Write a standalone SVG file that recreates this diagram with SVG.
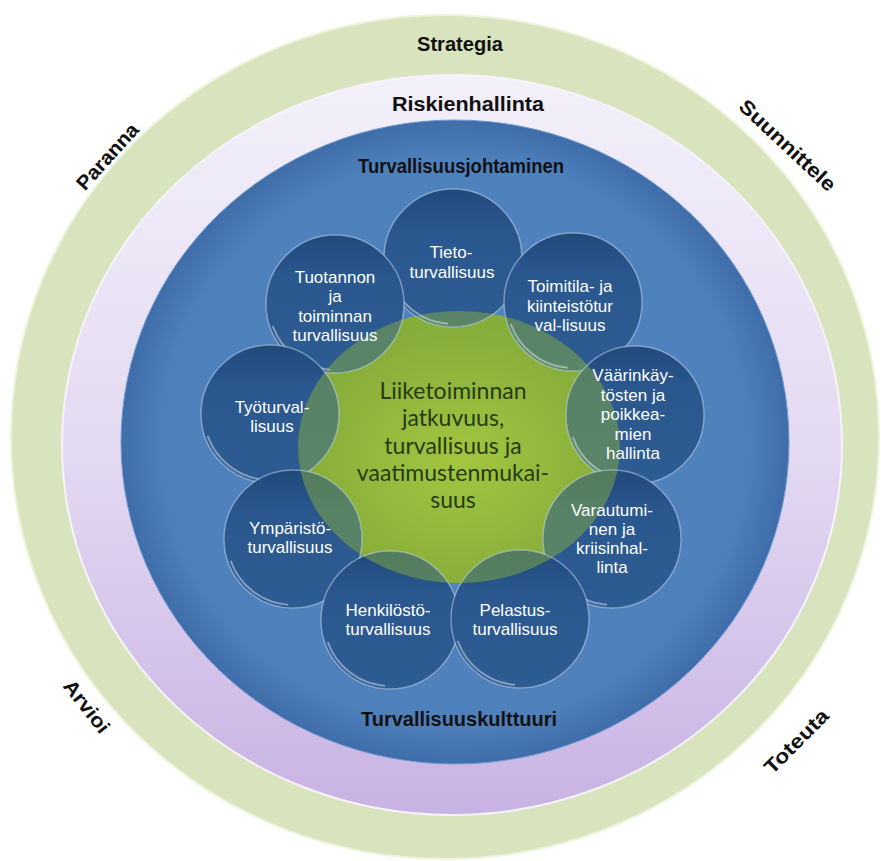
<svg xmlns="http://www.w3.org/2000/svg" xmlns:xlink="http://www.w3.org/1999/xlink" width="881" height="861" viewBox="0 0 881 861">
<style>
.hdr{font-family:"Liberation Sans",Arial,sans-serif;font-weight:bold;font-size:20px;fill:#111;text-anchor:middle}
.lbl{font-family:"Liberation Sans",Arial,sans-serif;font-size:17px;fill:#fff;text-anchor:middle}
.ctr{font-family:Lato,"Liberation Sans",sans-serif;font-size:23px;fill:#253a10;text-anchor:middle}
.bub{fill:url(#bubG)}
.lens{fill:#86ad3e;opacity:.5}
.rim{fill:none;stroke:#c4d6ec;stroke-opacity:.5;stroke-width:1.5}
.hl{fill:none;stroke:#fff;stroke-opacity:.4;stroke-width:2;stroke-linecap:round}
</style>
<defs>
<linearGradient id="purG" x1="0" y1="0" x2="0" y2="1">
<stop offset="0" stop-color="#f3f0fa"/><stop offset="0.5" stop-color="#e4daf2"/><stop offset="1" stop-color="#c8b2e3"/>
</linearGradient>
<radialGradient id="bluG" cx="0.5" cy="0.5" r="0.5">
<stop offset="0" stop-color="#5385c1"/><stop offset="0.88" stop-color="#4e80bc"/><stop offset="1" stop-color="#3f6daa"/>
</radialGradient>
<radialGradient id="grnG" cx="0.5" cy="0.55" r="0.5">
<stop offset="0" stop-color="#a2c640"/><stop offset="1" stop-color="#86ac3a"/>
</radialGradient>
<linearGradient id="bubG" x1="0" y1="0" x2="0" y2="1">
<stop offset="0" stop-color="#214a7c"/><stop offset="0.3" stop-color="#2a578e"/><stop offset="1" stop-color="#2d5c93"/>
</linearGradient>
<ellipse id="ctrShape" cx="459" cy="447" rx="161" ry="136"/>
<path id="hlArc" d="M -5.75 65.75 A 66 66 0 0 1 -62 22.6"/>
<clipPath id="cTieto"><circle cx="453" cy="258" r="69"/></clipPath>
<clipPath id="cTuot"><circle cx="335" cy="304" r="69"/></clipPath>
<clipPath id="cToim"><circle cx="573" cy="302" r="69"/></clipPath>
<clipPath id="cVaar"><circle cx="635" cy="415" r="69"/></clipPath>
<clipPath id="cTyo"><circle cx="270" cy="414" r="69"/></clipPath>
<clipPath id="cYmp"><circle cx="293" cy="539" r="69"/></clipPath>
<clipPath id="cVara"><circle cx="612" cy="539" r="69"/></clipPath>
<clipPath id="cHenk"><circle cx="390" cy="620" r="69"/></clipPath>
<clipPath id="cPel"><circle cx="520" cy="619" r="69"/></clipPath>
</defs>

<g id="ring-strategia">
<ellipse cx="445" cy="437" rx="434" ry="422" fill="#d8e4bd" stroke="#edf4dc" stroke-width="2"/>
<text class="hdr" x="460" y="51" textLength="86" lengthAdjust="spacingAndGlyphs">Strategia</text>
</g>
<g id="ring-riskienhallinta">
<ellipse cx="452" cy="445" rx="390" ry="370" fill="url(#purG)" stroke="#f6f3fb" stroke-width="2"/>
<text class="hdr" x="468" y="111" textLength="152" lengthAdjust="spacingAndGlyphs">Riskienhallinta</text>
</g>
<g id="ring-turvallisuusjohtaminen">
<ellipse cx="455" cy="442" rx="334" ry="322" fill="url(#bluG)" stroke="#6f9bd0" stroke-width="1"/>
<text class="hdr" x="461" y="173" textLength="206" lengthAdjust="spacingAndGlyphs">Turvallisuusjohtaminen</text>
<text class="hdr" x="459" y="726" textLength="196" lengthAdjust="spacingAndGlyphs">Turvallisuuskulttuuri</text>
</g>

<g id="cycle-labels">
<text class="hdr" transform="translate(108,157) rotate(-48)" x="0" y="6" textLength="82" lengthAdjust="spacingAndGlyphs">Paranna</text>
<text class="hdr" transform="translate(787,146) rotate(43)" x="0" y="6" textLength="124" lengthAdjust="spacingAndGlyphs">Suunnittele</text>
<text class="hdr" transform="translate(86,707) rotate(52)" x="0" y="6" textLength="62" lengthAdjust="spacingAndGlyphs">Arvioi</text>
<text class="hdr" transform="translate(797,742) rotate(-45)" x="0" y="6" textLength="82" lengthAdjust="spacingAndGlyphs">Toteuta</text>
</g>

<g id="center">
<use href="#ctrShape" fill="url(#grnG)"/>
<text class="ctr" x="453"><tspan x="453" y="399">Liiketoiminnan</tspan><tspan x="453" y="426">jatkuvuus,</tspan><tspan x="453" y="454">turvallisuus ja</tspan><tspan x="453" y="481">vaatimustenmukai-</tspan><tspan x="453" y="508">suus</tspan></text>
</g>

<g id="n-tieto">
<circle class="bub" cx="453" cy="258" r="69"/>
<use href="#ctrShape" class="lens" clip-path="url(#cTieto)"/>
<circle class="rim" cx="453" cy="258" r="69"/>
<use href="#hlArc" class="hl" x="453" y="258"/>
<text class="lbl"><tspan x="451" y="258">Tieto-</tspan><tspan x="452" y="278">turvallisuus</tspan></text>
</g>
<g id="n-tuotannon">
<circle class="bub" cx="335" cy="304" r="69"/>
<use href="#ctrShape" class="lens" clip-path="url(#cTuot)"/>
<circle class="rim" cx="335" cy="304" r="69"/>
<use href="#hlArc" class="hl" x="335" y="304"/>
<text class="lbl"><tspan x="335" y="283">Tuotannon</tspan><tspan x="335" y="302">ja</tspan><tspan x="335" y="321.5">toiminnan</tspan><tspan x="335" y="341">turvallisuus</tspan></text>
</g>
<g id="n-toimitila">
<circle class="bub" cx="573" cy="302" r="69"/>
<use href="#ctrShape" class="lens" clip-path="url(#cToim)"/>
<circle class="rim" cx="573" cy="302" r="69"/>
<use href="#hlArc" class="hl" x="573" y="302"/>
<text class="lbl"><tspan x="570" y="292">Toimitila- ja</tspan><tspan x="570" y="311.5">kiinteistötur</tspan><tspan x="570" y="331">val-lisuus</tspan></text>
</g>
<g id="n-vaarinkaytosten">
<circle class="bub" cx="635" cy="415" r="69"/>
<use href="#ctrShape" class="lens" clip-path="url(#cVaar)"/>
<circle class="rim" cx="635" cy="415" r="69"/>
<use href="#hlArc" class="hl" x="635" y="415"/>
<text class="lbl"><tspan x="633" y="381">Väärinkäy-</tspan><tspan x="633" y="400.5">tösten ja</tspan><tspan x="633" y="420">poikkea-</tspan><tspan x="633" y="439.5">mien</tspan><tspan x="633" y="459">hallinta</tspan></text>
</g>
<g id="n-tyoturvallisuus">
<circle class="bub" cx="270" cy="414" r="69"/>
<use href="#ctrShape" class="lens" clip-path="url(#cTyo)"/>
<circle class="rim" cx="270" cy="414" r="69"/>
<use href="#hlArc" class="hl" x="270" y="414"/>
<text class="lbl"><tspan x="272" y="413">Työturval-</tspan><tspan x="272" y="432">lisuus</tspan></text>
</g>
<g id="n-ymparisto">
<circle class="bub" cx="293" cy="539" r="69"/>
<use href="#ctrShape" class="lens" clip-path="url(#cYmp)"/>
<circle class="rim" cx="293" cy="539" r="69"/>
<use href="#hlArc" class="hl" x="293" y="539"/>
<text class="lbl"><tspan x="290" y="534">Ympäristö-</tspan><tspan x="290" y="553">turvallisuus</tspan></text>
</g>
<g id="n-varautuminen">
<circle class="bub" cx="612" cy="539" r="69"/>
<use href="#ctrShape" class="lens" clip-path="url(#cVara)"/>
<circle class="rim" cx="612" cy="539" r="69"/>
<use href="#hlArc" class="hl" x="612" y="539"/>
<text class="lbl"><tspan x="612" y="516">Varautumi-</tspan><tspan x="612" y="535">nen ja</tspan><tspan x="612" y="554">kriisinhal-</tspan><tspan x="612" y="573">linta</tspan></text>
</g>
<g id="n-henkilosto">
<circle class="bub" cx="390" cy="620" r="69"/>
<use href="#ctrShape" class="lens" clip-path="url(#cHenk)"/>
<circle class="rim" cx="390" cy="620" r="69"/>
<use href="#hlArc" class="hl" x="390" y="620"/>
<text class="lbl"><tspan x="388" y="616">Henkilöstö-</tspan><tspan x="388" y="635">turvallisuus</tspan></text>
</g>
<g id="n-pelastus">
<circle class="bub" cx="520" cy="619" r="69"/>
<use href="#ctrShape" class="lens" clip-path="url(#cPel)"/>
<circle class="rim" cx="520" cy="619" r="69"/>
<use href="#hlArc" class="hl" x="520" y="619"/>
<text class="lbl"><tspan x="515" y="616">Pelastus-</tspan><tspan x="515" y="635">turvallisuus</tspan></text>
</g>
<g id="connectors"/>
</svg>
